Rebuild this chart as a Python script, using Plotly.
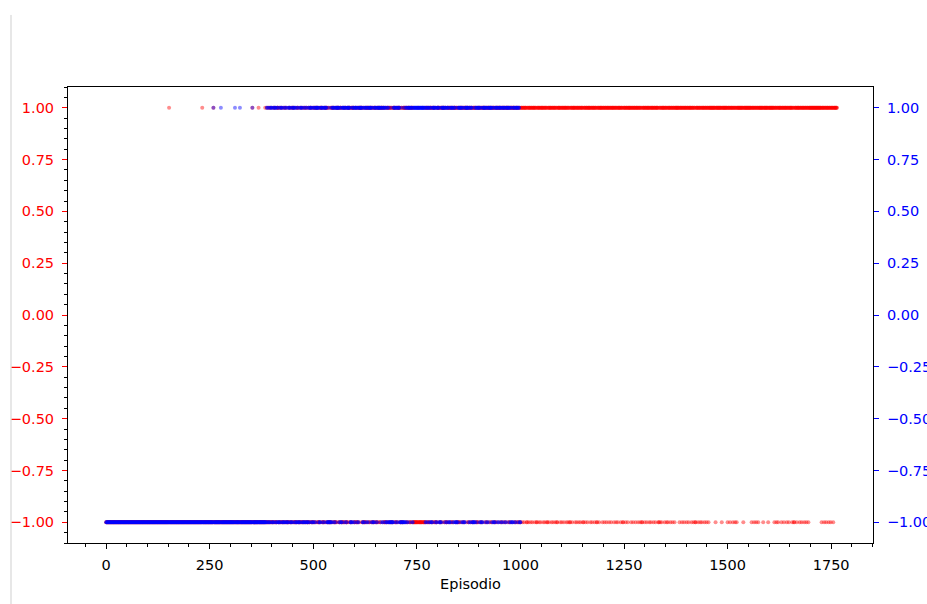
import numpy as np
import plotly.graph_objects as go

# ---------------- data (run lengths of outcomes per episode) -----
# Each list alternates run lengths; the first run of each series is a loss (-1).
# Red series, episodes 0 .. ~1760
red_runs_a = [152, 1, 79, 1, 26, 1, 93, 1, 14, 1, 15, 1]
red_runs_b1 = [3, 1, 4, 2, 3, 1, 5, 2, 2, 1, 4, 3, 2, 1, 3, 2, 4, 1, 2, 2, 3, 1, 5, 2, 3, 1, 2, 3, 4, 1,
               3, 2, 2, 1, 4, 2, 3, 1, 2, 2, 3, 2, 4, 1, 2, 3, 3, 1, 2]
red_runs_b2 = [2, 2, 3, 1, 2, 3, 1, 2, 4, 2, 1, 3, 2, 1, 3, 2, 2, 4, 1, 2, 3, 1, 2, 2, 1, 3, 4, 1, 2, 2,
               3, 2, 1, 3, 2, 1, 2, 4, 3, 1,
               3, 2, 2, 1, 4, 3, 2, 2, 1, 2, 3, 1, 5, 2, 2, 3, 1, 2, 4, 1, 2, 2, 3, 1, 2, 3, 4, 2, 1, 2,
               3, 1, 2, 2, 5, 1, 2, 3, 1, 2,
               3, 2, 4, 1, 2, 3, 5, 2, 1, 2, 3, 1, 4, 2, 2, 3, 6, 1, 2, 2, 3, 1, 2, 3, 4]
red_runs_b3 = [12, 1, 10, 1, 6]
red_runs_b4 = [3, 2, 2, 3, 4, 1, 2, 2, 3, 2, 1, 3, 5, 1, 2, 2, 3, 1, 4, 2,
               2, 3, 3, 1, 4, 2, 2, 2, 5, 1, 3, 2, 2, 3, 4, 1, 3, 2, 6, 1,
               3, 2, 4, 1, 2, 2, 5, 1, 3, 3, 2, 1, 4, 2, 3, 1, 6, 2, 2, 1,
               4, 1, 3, 2, 5, 1, 2, 2, 4, 1, 6, 2, 3, 1, 4, 2, 5, 1, 3, 2, 4, 1, 6, 2, 3, 1, 2, 2,
               3, 2]
red_runs_c = [4, 1, 3, 1, 5, 2, 3, 1, 4, 1, 3, 1, 5, 1, 3, 2, 4, 1, 3, 1,
              5, 1, 3, 1, 4, 2, 3, 1, 5, 1, 3, 1, 4, 1, 3, 2, 6, 1, 3, 1,
              4, 1, 5, 1, 3, 1, 3, 2, 4, 1, 6, 1, 3, 1, 4, 1, 3, 1, 5, 2,
              4, 1, 4, 1, 6, 1, 3, 1, 5, 1, 4, 2, 4, 1, 7, 1, 4, 1, 4, 1,
              5, 1, 4, 1, 6, 1, 4, 1, 3, 1, 6, 1, 4, 2, 5, 1, 4, 1, 7, 1, 4, 1, 5, 1,
              5, 1, 4, 1, 3, 2, 5, 1, 4, 1, 5, 1, 3, 1, 5, 1, 4, 1, 6, 2]
red_runs_d = [2, 1, 3, 1, 6, 1, 4, 1, 2, 1, 5, 1, 4, 1, 4, 1, 11, 1, 5, 1, 4, 1, 5, 1, 4, 1,
              6, 1, 4, 1, 3, 2, 5, 1, 4, 1, 3, 1, 5, 1, 4, 1, 4, 1, 16, 1, 14, 1, 13, 1,
              5, 1, 6, 1, 4, 1, 3, 1, 15, 1, 19, 1, 5, 1, 4, 1, 4, 1, 11, 1, 11, 1, 14, 1,
              4, 1, 3, 1, 7, 1, 5, 1, 6, 1, 4, 1, 7, 1, 3, 2, 5, 1, 6, 1, 4, 1, 5, 1, 4, 1,
              4, 1, 31, 1, 5, 1, 4, 1, 5, 1, 4, 1, 5, 1, 9]

# Blue series, episodes 0 .. ~1000
blue_runs_a = [259, 1, 17, 1, 33, 1, 11, 1, 29, 1, 34]
blue_runs_b1 = [2, 2, 1, 3, 2, 1, 2, 2, 1, 2, 3, 1, 1, 2, 2, 3, 1, 2, 2, 1, 2, 3, 1, 2, 2, 2, 1, 3, 2, 1,
                2, 2, 1, 2, 2, 1, 3, 2, 1, 2, 2, 3, 1, 2, 2, 1, 2, 2, 1, 3,
                2, 2, 1, 3, 2, 2, 3, 1, 2, 3]
blue_runs_b2 = [3, 2, 6, 1, 2, 3, 5, 2, 3, 1, 4,
                5, 1, 4, 1, 2,
                4, 2, 3, 1, 7, 2, 2, 3, 5, 1, 3, 2, 8,
                4, 1, 1,
                3, 2, 5, 1, 2, 2, 9, 3, 2, 1, 4, 2, 3, 1, 6, 2, 2, 3, 5, 2, 8, 1, 3, 2, 4, 1, 2, 3, 3,
                6, 1, 5,
                4, 1, 3, 2, 5,
                5, 1, 4, 1, 3,
                3, 2, 4, 1, 6, 2,
                30]
blue_runs_b4 = [2, 3, 1, 4, 2, 2, 3, 6, 1, 2, 2, 5, 3, 1, 2, 7, 1, 3, 2, 4,
                3, 2, 1, 5, 2, 3, 4, 1, 2, 6, 1, 3, 2, 2, 3, 8, 1, 2, 2, 4,
                5, 1, 2, 3, 1, 6, 2, 2, 3, 5, 1, 4, 2, 3, 1, 7, 2, 2, 3, 4,
                1, 3, 2, 5, 2, 3, 1, 4, 2, 6, 1, 3, 2, 2, 3, 4, 2, 5, 1, 3, 3]

red_runs = red_runs_a + red_runs_b1 + red_runs_b2 + red_runs_b3 + red_runs_b4 + red_runs_c + red_runs_d
blue_runs = blue_runs_a + blue_runs_b1 + blue_runs_b2 + blue_runs_b4


def expand(runs):
    vals = []
    v = -1
    for n in runs:
        vals.extend([v] * n)
        v = -v
    return np.arange(len(vals)), np.array(vals)


red_x, red_y = expand(red_runs)
blue_x, blue_y = expand(blue_runs)

FONT = "DejaVu Sans"
FS = 14.5

fig = go.Figure()
fig.add_trace(go.Scatter(x=red_x, y=red_y, mode="markers", yaxis="y",
                         marker=dict(color="red", size=4, opacity=0.45, line=dict(width=0)),
                         showlegend=False, hoverinfo="skip"))
fig.add_trace(go.Scatter(x=blue_x, y=blue_y, mode="markers", yaxis="y2",
                         marker=dict(color="blue", size=4, opacity=0.45, line=dict(width=0)),
                         showlegend=False, hoverinfo="skip"))

yticks = [-1.0, -0.75, -0.5, -0.25, 0.0, 0.25, 0.5, 0.75, 1.0]
xticks = [0, 250, 500, 750, 1000, 1250, 1500, 1750]

fig.update_layout(
    width=927, height=604,
    margin=dict(l=68, r=54, t=87, b=61, autoexpand=False),
    plot_bgcolor="white", paper_bgcolor="white",
    font=dict(family=FONT, size=FS, color="black"),
    xaxis=dict(range=[-92, 1851], tickvals=xticks, ticks="outside", ticklen=5, tickwidth=1,
               tickcolor="black", showline=True, linecolor="black", linewidth=1, mirror=True,
               showgrid=False, zeroline=False, automargin=False,
               tickfont=dict(family=FONT, size=FS, color="black"),
               minor=dict(dtick=50, tick0=0, ticks="outside", ticklen=3, tickcolor="black", showgrid=False),
               title=dict(text="Episodio", standoff=6, font=dict(family=FONT, size=FS, color="black")),
               ticklabelstandoff=4),
    yaxis=dict(range=[-1.1, 1.1], tickvals=yticks, tickformat=".2f", ticks="outside", ticklen=5,
               tickwidth=1, tickcolor="red", tickfont=dict(family=FONT, size=FS, color="red"),
               showline=True, linecolor="black", linewidth=1, showgrid=False, zeroline=False,
               automargin=False,
               minor=dict(dtick=0.05, tick0=0, ticks="outside", ticklen=3, tickcolor="black", showgrid=False),
               ticklabelstandoff=5),
    yaxis2=dict(range=[-1.1, 1.1], tickvals=yticks, tickformat=".2f", overlaying="y", side="right",
                ticks="outside", ticklen=5, tickwidth=1, tickcolor="blue",
                tickfont=dict(family=FONT, size=FS, color="blue"), automargin=False,
                showline=True, linecolor="black", linewidth=1, showgrid=False, zeroline=False,
                ticklabelstandoff=5),
    shapes=[dict(type="line", xref="paper", yref="paper", x0=-0.0708, x1=-0.0708, y0=-0.2, y1=1.158,
                 line=dict(color="#cfcfcf", width=1))],
)

fig.write_html("out.html", config={"displayModeBar": False},
               post_script="document.body.style.margin='0';")
